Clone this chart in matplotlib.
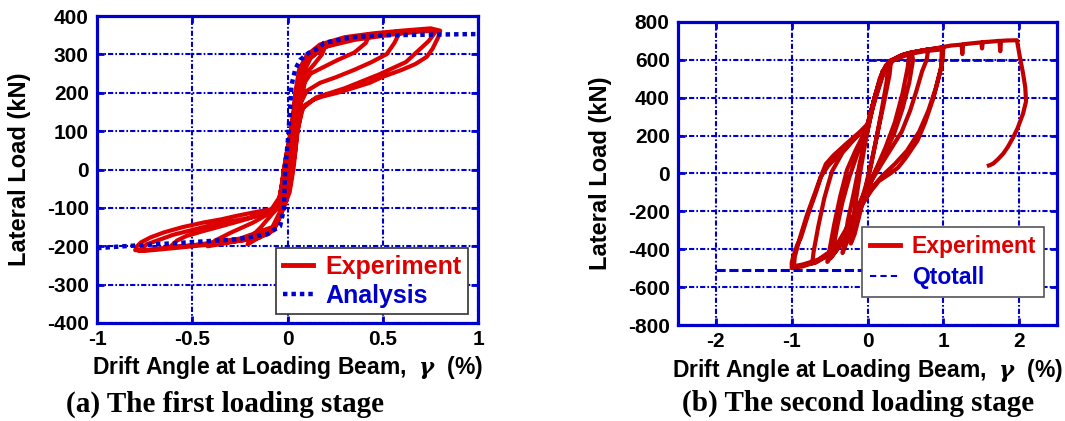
import numpy as np
import matplotlib
matplotlib.use("Agg")
import matplotlib.pyplot as plt
from matplotlib.lines import Line2D

plt.rcParams['font.family'] = ['Liberation Sans', 'DejaVu Sans']
plt.rcParams['font.weight'] = 'bold'
plt.rcParams['axes.unicode_minus'] = False
plt.rcParams['mathtext.fontset'] = 'custom'
plt.rcParams['mathtext.it'] = 'DejaVu Serif:italic:bold'

# ---- (a) first loading stage: experiment, cycle by cycle (drift %, load kN)
a_c1_x = [0.00, 0.03, 0.05, 0.08, 0.10, 0.08, 0.05, 0.03, 0.01, -0.03, -0.07, -0.10, -0.08, -0.04, -0.02, 0.01]
a_c1_y = [0, 100, 190, 240, 260, 200, 130, 30, -40, -90, -110, -120, -100, -70, 0, 60]

a_c2_x = [0.03, 0.05, 0.08, 0.12, 0.20, 0.18, 0.14, 0.08, 0.06, 0.04, 0.02, -0.02, -0.05, -0.10, -0.16, -0.21,
          -0.19, -0.14, -0.08, -0.05, -0.03, -0.01]
a_c2_y = [100, 190, 250, 290, 325, 300, 275, 240, 180, 80, -20, -90, -135, -165, -180, -195,
          -175, -150, -115, -90, -40, 30]

a_c3_x = [0.02, 0.04, 0.06, 0.10, 0.20, 0.30, 0.43, 0.41, 0.35, 0.26, 0.18, 0.12, 0.08, 0.06, 0.04, 0.01,
          -0.03, -0.07, -0.15, -0.28, -0.42, -0.38, -0.30, -0.18, -0.10, -0.05, -0.02, 0.00]
a_c3_y = [100, 180, 240, 285, 320, 340, 352, 330, 305, 285, 265, 250, 220, 150, 50, -50,
          -110, -155, -178, -188, -200, -185, -165, -138, -115, -95, -40, 30]

a_c4_x = [0.02, 0.05, 0.08, 0.12, 0.20, 0.35, 0.50, 0.59, 0.56, 0.52, 0.44, 0.35, 0.25, 0.17, 0.10, 0.07,
          0.05, 0.03, -0.01, -0.04, -0.08, -0.20, -0.40, -0.62, -0.58, -0.53, -0.44, -0.35, -0.22, -0.14,
          -0.07, -0.03, -0.01, 0.02]
a_c4_y = [110, 200, 260, 295, 322, 345, 355, 360, 330, 301, 280, 260, 240, 226, 205, 175,
          110, 20, -60, -120, -160, -180, -193, -203, -185, -173, -160, -148, -130, -117,
          -105, -80, -20, 50]

a_c5_x = [0.03, 0.04, 0.06, 0.10, 0.17, 0.30, 0.45, 0.60, 0.75, 0.80, 0.79, 0.76, 0.73, 0.67, 0.60, 0.50,
          0.43, 0.34, 0.26, 0.18, 0.135, 0.09, 0.07, 0.05, 0.03, 0.01, -0.03, -0.06, -0.10, -0.20, -0.40,
          -0.60, -0.75, -0.80, -0.79, -0.77, -0.72, -0.65, -0.55, -0.44, -0.35, -0.27, -0.18, -0.09, -0.05,
          -0.03, -0.01, 0.02]
a_c5_y = [120, 200, 260, 298, 326, 345, 355, 362, 368, 362, 345, 315, 294, 275, 260, 242,
          226, 212, 200, 190, 182, 168, 150, 90, 0, -60, -110, -145, -168, -182, -195,
          -205, -212, -210, -200, -190, -177, -164, -150, -138, -130, -121, -112, -104, -92,
          -40, 30, 110]

a_c6_x = [0.04, 0.07, 0.12, 0.20, 0.35, 0.55, 0.70, 0.78, 0.74, 0.62, 0.48, 0.30, 0.15, 0.08, 0.05, 0.02,
          -0.03, -0.08, -0.25, -0.50, -0.70, -0.78, -0.74, -0.60, -0.40, -0.20, -0.08, -0.04, -0.01]
a_c6_y = [190, 265, 300, 320, 338, 352, 360, 362, 335, 280, 248, 212, 188, 160, 100, 10,
          -100, -150, -180, -198, -207, -212, -195, -170, -145, -126, -108, -80, -10]

# analysis (dotted)
a_an_x = [-1.00, -0.86, -0.53, -0.27, -0.11, -0.04, -0.02, -0.013, 0.003, 0.013, 0.02, 0.04, 0.066, 0.11,
          0.17, 0.19, 0.34, 0.50, 0.96, 1.00]
a_an_y = [-205, -200, -190, -182, -169, -148, -104, 0, 86, 164, 219, 262, 286, 304,
          318, 330, 345, 350, 353, 353]

# ---- (b) second loading stage
b_c1_x = [0.00, 0.08, 0.16, 0.24, 0.28, 0.25, 0.18, 0.10, 0.03, -0.03, -0.10, -0.17, -0.22, -0.20, -0.16,
          -0.10, -0.04, 0.00]
b_c1_y = [220, 380, 500, 570, 585, 480, 320, 150, 10, -90, -210, -320, -370, -300, -160,
          0, 140, 230]

b_c2_x = [0.08, 0.18, 0.26, 0.31, 0.29, 0.22, 0.14, 0.05, -0.02, -0.10, -0.20, -0.29, -0.33, -0.31, -0.26,
          -0.18, -0.10, -0.03, 0.00]
b_c2_y = [370, 500, 575, 595, 520, 380, 230, 60, -60, -170, -290, -380, -420, -370, -250,
          -100, 60, 180, 240]

b_c3_x = [0.10, 0.20, 0.30, 0.40, 0.50, 0.55, 0.53, 0.46, 0.36, 0.24, 0.12, 0.03, -0.05, -0.15, -0.28,
          -0.40, -0.50, -0.53, -0.50, -0.44, -0.36, -0.27, -0.16, -0.06, 0.00]
b_c3_y = [400, 530, 590, 615, 630, 635, 560, 420, 270, 140, 30, -60, -130, -220, -320,
          -400, -450, -467, -400, -270, -120, 20, 120, 200, 250]

b_c3b_x = [0.10, 0.22, 0.34, 0.46, 0.58, 0.60, 0.55, 0.46, 0.35, 0.22, 0.10, 0.00, -0.12, -0.25, -0.38,
           -0.48, -0.45, -0.40, -0.33, -0.24, -0.12, -0.02]
b_c3b_y = [390, 540, 600, 625, 640, 600, 480, 340, 210, 100, 10, -80, -190, -300, -390,
           -445, -390, -280, -150, -20, 120, 230]

b_c4_x = [0.10, 0.20, 0.30, 0.45, 0.60, 0.75, 0.80, 0.78, 0.72, 0.64, 0.56, 0.45, 0.34, 0.20, 0.05,
          -0.05, -0.22, -0.38, -0.55, -0.68, -0.73, -0.71, -0.65, -0.57, -0.47, -0.33, -0.18, -0.05, 0.00]
b_c4_y = [410, 530, 595, 625, 640, 650, 655, 600, 540, 430, 330, 220, 150, 60, -40,
          -110, -250, -360, -440, -470, -475, -410, -280, -130, 10, 110, 180, 235, 255]

b_c5_x = [0.10, 0.20, 0.30, 0.45, 0.60, 0.80, 1.00, 0.99, 0.96, 0.87, 0.76, 0.66, 0.50, 0.40, 0.30,
          0.15, 0.05, -0.05, -0.15, -0.30, -0.50, -0.70, -0.85, -1.00, -1.00, -0.98, -0.93, -0.88, -0.77,
          -0.68, -0.60, -0.55, -0.45, -0.30, -0.10, 0.00]
b_c5_y = [400, 530, 590, 620, 640, 655, 665, 600, 540, 400, 270, 174, 80, 30, 0,
          -40, -90, -150, -230, -330, -420, -470, -490, -500, -470, -440, -380, -340, -200,
          -100, 0, 50, 95, 150, 220, 260]

b_c6_x = [0.10, 0.20, 0.35, 0.55, 0.75, 0.98, 0.97, 0.90, 0.80, 0.68, 0.52, 0.36, 0.20, 0.05, -0.08,
          -0.25, -0.45, -0.65, -0.85, -0.97, -0.96, -0.90, -0.80, -0.70, -0.62, -0.52, -0.35, -0.15, 0.00]
b_c6_y = [410, 540, 600, 630, 645, 655, 560, 450, 330, 220, 120, 50, -10, -80, -170,
          -300, -400, -455, -480, -490, -440, -350, -220, -110, -20, 40, 110, 190, 250]

b_fin_x = [0.10, 0.20, 0.30, 0.50, 0.70, 0.90, 1.00, 1.10, 1.24, 1.25, 1.26, 1.40, 1.50, 1.51, 1.52,
           1.60, 1.74, 1.75, 1.76, 1.85, 1.97, 2.01, 2.05, 2.08, 2.09, 2.05, 1.98, 1.92, 1.85, 1.79,
           1.72, 1.66, 1.62, 1.60]
b_fin_y = [410, 540, 595, 630, 648, 660, 668, 675, 680, 630, 682, 688, 692, 660, 693,
           695, 700, 645, 700, 702, 703, 612, 530, 454, 380, 315, 240, 190, 140, 105,
           75, 53, 45, 42]

# Qtotall
q_neg_x = [-2.0, 0.0]
q_neg_y = [-510, -510]
q_pos_x = [0.0, 2.0]
q_pos_y = [598, 598]

a_xticks = [-1, -0.5, 0, 0.5, 1]
a_xlabels = ['-1', '-0.5', '0', '0.5', '1']
a_yticks = list(range(-400, 401, 100))
b_xticks = [-2, -1, 0, 1, 2]
b_yticks = list(range(-800, 801, 200))

BLUE = '#0000cc'
RED_A = '#dd0000'
RED_B = '#c00000'
GRID_LS = (0, (2.5, 1.0, 0.8, 1.0))
XLABEL = r'Drift Angle at Loading Beam,  $\gamma$  (%)'

fig = plt.figure(figsize=(10.65, 4.21), dpi=100)
axa = fig.add_axes([0.0911, 0.2328, 0.358, 0.729])
axb = fig.add_axes([0.6366, 0.228, 0.356, 0.72])


def style(ax):
    for s in ax.spines.values():
        s.set_color(BLUE)
        s.set_linewidth(2.3)
    ax.grid(True, color=BLUE, linestyle=GRID_LS, linewidth=1.5)
    ax.set_axisbelow(True)
    ax.tick_params(direction='in', length=5, width=2, color=BLUE, top=True, right=True,
                   labelsize=15)
    ax.tick_params(axis='y', pad=6)
    ax.tick_params(axis='x', pad=5)
    for lab in ax.get_xticklabels() + ax.get_yticklabels():
        lab.set_fontweight('bold')


def cat(*parts):
    return np.concatenate([np.asarray(p, dtype=float) for p in parts])


# (a)
ax = axa
ex = cat(a_c1_x, a_c2_x, a_c3_x, a_c4_x, a_c5_x, a_c6_x)
ey = cat(a_c1_y, a_c2_y, a_c3_y, a_c4_y, a_c5_y, a_c6_y)
ax.plot(ex, ey, color=RED_A, lw=3.0, solid_joinstyle='round', zorder=3)
ax.plot(a_an_x, a_an_y, color=BLUE, lw=3.2, linestyle=(0, (1, 0.9)), dash_capstyle='butt', zorder=4)
ax.set_xlim(-1, 1)
ax.set_ylim(-400, 400)
ax.set_xticks(a_xticks)
ax.set_xticklabels(a_xlabels)
ax.set_yticks(a_yticks)
style(ax)
ax.set_ylabel('Lateral Load (kN)', fontsize=17, fontweight='bold')
ax.yaxis.set_label_coords(-0.172, 0.5)
ax.set_xlabel(XLABEL, fontsize=16.5, fontweight='bold')
ax.xaxis.set_label_coords(0.5, -0.1)
h = [Line2D([], [], color=RED_A, lw=3.5),
     Line2D([], [], color=BLUE, lw=3.2, linestyle=(0, (1, 0.9)))]
leg = ax.legend(h, ['Experiment', 'Analysis'], loc='lower right', bbox_to_anchor=(0.972, 0.03),
                borderaxespad=0, fancybox=False, framealpha=1, edgecolor='#333333',
                prop={'size': 18, 'weight': 'bold'}, handlelength=1.2, handletextpad=0.5,
                labelspacing=0.2, borderpad=0.25)
leg.get_frame().set_linewidth(1.2)
leg.get_texts()[0].set_color('#dd0000')
leg.get_texts()[1].set_color(BLUE)

# (b)
ax = axb
ex = cat(b_c1_x, b_c2_x, b_c3_x, b_c3b_x, b_c4_x, b_c5_x, b_c6_x, b_fin_x)
ey = cat(b_c1_y, b_c2_y, b_c3_y, b_c3b_y, b_c4_y, b_c5_y, b_c6_y, b_fin_y)
ax.plot(ex, ey, color=RED_B, lw=3.0, solid_joinstyle='round', zorder=3)
ax.plot(q_neg_x, q_neg_y, color=BLUE, lw=2.2, linestyle=(0, (3, 1.2)), zorder=4)
ax.plot(q_pos_x, q_pos_y, color=BLUE, lw=2.0, linestyle=(0, (3, 1.2)), zorder=2)
ax.set_xlim(-2.5, 2.5)
ax.set_ylim(-800, 800)
ax.set_xticks(b_xticks)
ax.set_yticks(b_yticks)
style(ax)
ax.set_ylabel('Lateral Load (kN)', fontsize=17, fontweight='bold')
ax.yaxis.set_label_coords(-0.174, 0.5)
ax.set_xlabel(XLABEL, fontsize=16.5, fontweight='bold')
ax.xaxis.set_label_coords(0.5, -0.107)
h = [Line2D([], [], color='#dd0000', lw=3.5),
     Line2D([], [], color=BLUE, lw=1.5, linestyle=(0, (3, 2)))]
leg = ax.legend(h, ['Experiment', 'Qtotall'], loc='lower right', bbox_to_anchor=(0.966, 0.092),
                borderaxespad=0, fancybox=False, framealpha=1, edgecolor='#555555',
                prop={'size': 16.5, 'weight': 'bold'}, handlelength=1.3, handletextpad=0.5,
                labelspacing=0.35, borderpad=0.35)
leg.get_frame().set_linewidth(1.2)
leg.get_texts()[0].set_color('#dd0000')
leg.get_texts()[1].set_color(BLUE)

fig.text(0.211, 0.040, '(a) The first loading stage', ha='center', va='center',
         family='Liberation Serif', fontsize=21, fontweight='bold')
fig.text(0.806, 0.043, '(b) The second loading stage', ha='center', va='center',
         family='Liberation Serif', fontsize=21, fontweight='bold')

fig.savefig('out.png', dpi=100)
